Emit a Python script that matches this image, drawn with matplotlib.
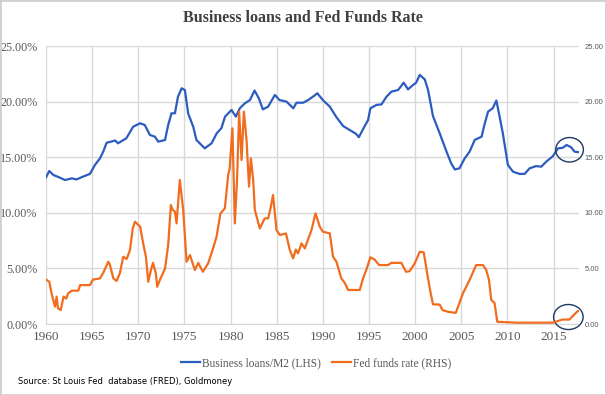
import matplotlib.pyplot as plt
from matplotlib.patches import Ellipse, Rectangle

# Business loans / M2 (%)
loans_year = [1960.0, 1960.36, 1960.8, 1961.4, 1962.06, 1962.8, 1963.3, 1964.0, 1964.76,
              1965.3, 1965.85, 1966.2, 1966.57, 1967.5, 1967.8, 1968.7, 1969.45, 1970.2,
              1970.7, 1971.26, 1971.8, 1972.16, 1972.9, 1973.24, 1973.6, 1973.97, 1974.3,
              1974.7, 1975.05, 1975.4, 1975.95, 1976.3, 1977.2, 1977.94, 1978.5, 1979.0,
              1979.4, 1980.1, 1980.57, 1981.0, 1981.55, 1982.1, 1982.6, 1983.06, 1983.5,
              1984.07, 1984.8, 1985.3, 1986.06, 1986.8, 1987.14, 1987.86, 1988.4, 1988.94,
              1989.4, 1990.0, 1990.75, 1991.47, 1992.2, 1992.9, 1993.6, 1993.9, 1994.5,
              1994.9, 1995.15, 1995.8, 1996.35, 1996.9, 1997.43, 1998.15, 1998.76, 1999.23,
              1999.77, 2000.1, 2000.5, 2001.04, 2001.4, 2001.93, 2002.66, 2003.4, 2003.9,
              2004.3, 2004.8, 2005.37, 2005.9, 2006.45, 2007.2, 2007.5, 2007.9, 2008.4,
              2008.8, 2009.08, 2009.5, 2010.05, 2010.6, 2011.3, 2011.86, 2012.4, 2013.1,
              2013.67, 2014.2, 2014.93, 2015.47, 2016.0, 2016.4, 2016.9, 2017.27, 2017.74]
loans_val = [13.19, 13.76, 13.4, 13.2, 12.95, 13.1, 13.0, 13.25, 13.5,
             14.3, 14.9, 15.5, 16.3, 16.5, 16.25, 16.7, 17.75, 18.05,
             17.9, 17.0, 16.85, 16.4, 16.55, 17.9, 18.95, 18.95, 20.44,
             21.2, 21.04, 18.95, 17.75, 16.55, 15.8, 16.25, 17.15, 17.6,
             18.65, 19.25, 18.65, 19.4, 19.85, 20.14, 21.0, 20.3, 19.3,
             19.55, 20.6, 20.14, 20.0, 19.4, 19.9, 19.9, 20.14, 20.45,
             20.75, 20.14, 19.55, 18.6, 17.8, 17.45, 17.1, 16.8, 17.75,
             18.35, 19.4, 19.7, 19.75, 20.45, 20.9, 21.04, 21.7, 21.1,
             21.5, 21.7, 22.4, 22.0, 21.04, 18.7, 17.15, 15.5, 14.45,
             13.9, 14.0, 14.9, 15.5, 16.55, 16.85, 17.9, 19.1, 19.4,
             20.1, 18.95, 17.15, 14.3, 13.7, 13.5, 13.5, 14.0, 14.2,
             14.15, 14.6, 15.1, 15.8, 15.85, 16.1, 15.9, 15.5, 15.45]

# Fed funds rate (%)
ffr_year = [1960.0, 1960.36, 1960.6, 1960.97, 1961.15, 1961.3, 1961.6, 1961.9, 1962.2,
            1962.4, 1962.8, 1963.5, 1963.7, 1964.76, 1965.1, 1965.85, 1966.2, 1966.75,
            1966.9, 1967.3, 1967.65, 1968.0, 1968.37, 1968.74, 1969.1, 1969.4, 1969.64,
            1970.2, 1970.53, 1970.83, 1971.08, 1971.37, 1971.6, 1971.9, 1972.05, 1972.34,
            1972.9, 1973.24, 1973.53, 1973.7, 1973.97, 1974.15, 1974.5, 1974.87, 1975.23,
            1975.6, 1976.13, 1976.5, 1977.0, 1977.57, 1978.1, 1978.48, 1978.9, 1979.38,
            1979.74, 1979.9, 1980.2, 1980.46, 1980.7, 1980.93, 1981.19, 1981.44, 1981.73,
            1982.0, 1982.2, 1982.45, 1982.63, 1983.17, 1983.7, 1984.07, 1984.33, 1984.6,
            1984.98, 1985.34, 1986.0, 1986.42, 1986.78, 1987.07, 1987.3, 1987.69, 1988.04,
            1988.77, 1989.2, 1989.67, 1990.0, 1990.75, 1991.1, 1991.47, 1992.0, 1992.37,
            1992.73, 1994.0, 1994.35, 1994.7, 1995.15, 1995.6, 1996.1, 1997.06, 1997.43,
            1998.5, 1999.0, 1999.4, 1999.95, 2000.5, 2000.93, 2001.3, 2001.65, 2001.93,
            2002.66, 2002.95, 2003.56, 2004.4, 2005.18, 2005.9, 2006.6, 2007.35, 2007.7,
            2008.0, 2008.25, 2008.6, 2008.9, 2011.0, 2014.9, 2015.95, 2016.7, 2017.6,
            2017.74]
ffr_val = [4.0, 3.8, 2.76, 1.56, 2.46, 1.4, 1.26, 2.46, 2.3,
           2.76, 3.0, 3.0, 3.5, 3.5, 4.0, 4.1, 4.6, 5.6,
           5.4, 4.1, 3.87, 4.56, 6.05, 5.85, 6.65, 8.6, 9.2,
           8.75, 7.25, 6.05, 3.8, 4.85, 5.5, 4.56, 3.35, 3.96,
           5.0, 7.1, 10.7, 10.3, 10.1, 9.05, 12.95, 10.25, 5.6,
           6.2, 4.86, 5.5, 4.7, 5.45, 6.8, 7.85, 9.95, 10.4,
           13.4, 14.0, 17.6, 9.05, 12.95, 19.1, 14.75, 19.1, 16.55,
           12.35, 14.9, 12.95, 10.25, 8.6, 9.5, 9.5, 10.4, 11.6,
           8.45, 8.0, 8.15, 6.65, 5.9, 6.7, 6.35, 7.25, 6.8,
           8.45, 9.95, 8.75, 8.3, 8.15, 6.05, 5.6, 4.1, 3.7,
           3.06, 3.06, 4.1, 4.86, 6.0, 5.8, 5.3, 5.3, 5.5,
           5.5, 4.7, 4.75, 5.45, 6.5, 6.45, 4.56, 2.9, 1.77,
           1.75, 1.26, 1.1, 1.0, 2.76, 3.96, 5.3, 5.3, 4.86,
           3.96, 2.16, 1.9, 0.2, 0.12, 0.12, 0.4, 0.4, 1.16,
           1.16]

year_ticks = list(range(1960, 2016, 5))
pct_ticks = [0, 5, 10, 15, 20, 25]

BLUE = '#2c5cbf'
ORANGE = '#f06d1f'
NAVY = '#1f3864'
GREY = '#595959'
SERIF = 'Liberation Serif'

fig = plt.figure(figsize=(6.06, 3.95), dpi=100)
fig.patches.append(Rectangle((0, 0), 1, 1, transform=fig.transFigure,
                             fill=False, edgecolor='#d0d0d0', lw=2))

ax = fig.add_axes([0.0759, 0.1797, 0.8795, 0.7038])
ax.plot(loans_year, loans_val, color=BLUE, lw=1.6, label='Business loans/M2 (LHS)')
ax.set_xlim(1960, 2017.75)
ax.set_ylim(0, 25)
ax.set_xticks(year_ticks)
ax.set_yticks(pct_ticks)
ax.set_yticklabels(['{:.2f}%'.format(v) for v in pct_ticks])
ax.grid(True, color='#d9d9d9', lw=1)
ax.set_axisbelow(True)
for s in ['top', 'right', 'left']:
    ax.spines[s].set_visible(False)
ax.spines['bottom'].set_color('#d9d9d9')
ax.tick_params(length=0, colors=GREY, labelsize=9.5, pad=5)
ax.tick_params(axis='y', labelsize=8.7, pad=6)
for lab in ax.get_xticklabels() + ax.get_yticklabels():
    lab.set_fontfamily(SERIF)

ax2 = ax.twinx()
ax2.plot(ffr_year, ffr_val, color=ORANGE, lw=1.6, label='Fed funds rate (RHS)')
ax2.set_ylim(0, 25)
ax2.set_yticks(pct_ticks)
ax2.set_yticklabels(['{:.2f}'.format(v) for v in pct_ticks])
for s in ax2.spines.values():
    s.set_visible(False)
ax2.tick_params(length=0, colors=GREY, labelsize=5.5, pad=4)
for lab in ax2.get_yticklabels():
    lab.set_fontfamily('Liberation Sans')

# circles highlighting the latest readings
ax2.add_patch(Ellipse((2016.73, 15.67), 3.0, 2.2, fill=False, edgecolor=NAVY,
                      lw=1, clip_on=False))
ax2.add_patch(Ellipse((2016.6, 0.63), 3.2, 2.25, fill=False, edgecolor=NAVY,
                      lw=1, clip_on=False))

fig.text(0.5, 0.955, 'Business loans and Fed Funds Rate', ha='center', va='center',
         fontsize=11.5, fontweight='bold', family=SERIF, color='#404040')

h1, l1 = ax.get_legend_handles_labels()
h2, l2 = ax2.get_legend_handles_labels()
fig.legend(h1 + h2, l1 + l2, loc='center', bbox_to_anchor=(0.522, 0.081), ncol=2,
           frameon=False, prop={'family': SERIF, 'size': 8.3}, labelcolor=GREY,
           handlelength=1.6, columnspacing=1.0, handletextpad=0.2)

fig.text(0.03, 0.033, 'Source: St Louis Fed  database (FRED), Goldmoney', fontsize=6,
         color='black', ha='left', va='center')

fig.savefig('out.png', dpi=100)
